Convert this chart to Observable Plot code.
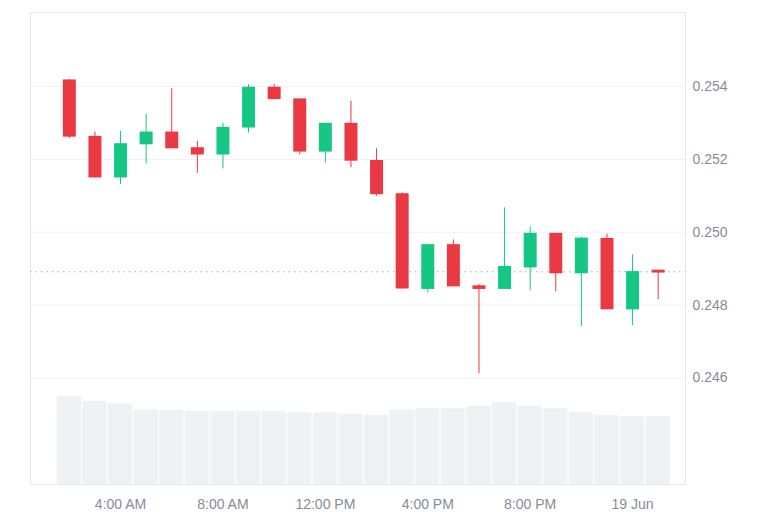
<!DOCTYPE html>
<html><head><meta charset="utf-8">
<script src="https://cdn.jsdelivr.net/npm/d3@7"></script>
<script src="https://cdn.jsdelivr.net/npm/@observablehq/plot@0.6"></script>
<style>
body{margin:0;background:#fff;}
#wrap{position:relative;width:768px;height:512px;}
#wrap svg{position:absolute;left:0;top:0;}
</style></head><body><div id="wrap"></div>
<script>
const times = ["2024-06-18T02:00Z","2024-06-18T03:00Z","2024-06-18T04:00Z","2024-06-18T05:00Z","2024-06-18T06:00Z","2024-06-18T07:00Z","2024-06-18T08:00Z","2024-06-18T09:00Z","2024-06-18T10:00Z","2024-06-18T11:00Z","2024-06-18T12:00Z","2024-06-18T13:00Z","2024-06-18T14:00Z","2024-06-18T15:00Z","2024-06-18T16:00Z","2024-06-18T17:00Z","2024-06-18T18:00Z","2024-06-18T19:00Z","2024-06-18T20:00Z","2024-06-18T21:00Z","2024-06-18T22:00Z","2024-06-18T23:00Z","2024-06-19T00:00Z","2024-06-19T01:00Z"];
const open  = [0.25418,0.25263,0.25149,0.25240,0.25275,0.25232,0.25212,0.25286,0.25398,0.25366,0.25220,0.25299,0.25197,0.25106,0.24843,0.24966,0.24853,0.24843,0.24902,0.24997,0.24886,0.24983,0.24787,0.24896];
const high  = [0.25419,0.25275,0.25277,0.25323,0.25394,0.25250,0.25299,0.25405,0.25406,0.25366,0.25299,0.25360,0.25229,0.25108,0.24966,0.24979,0.24857,0.25067,0.25014,0.24997,0.24986,0.24995,0.24938,0.24896];
const low   = [0.25257,0.25149,0.25131,0.25188,0.25229,0.25162,0.25174,0.25272,0.25364,0.25212,0.25190,0.25177,0.25099,0.24844,0.24833,0.24850,0.24612,0.24843,0.24839,0.24837,0.24741,0.24787,0.24744,0.24815];
const close = [0.25261,0.25149,0.25243,0.25275,0.25229,0.25212,0.25288,0.25398,0.25364,0.25220,0.25299,0.25195,0.25103,0.24844,0.24966,0.24850,0.24843,0.24906,0.24997,0.24886,0.24984,0.24787,0.24892,0.24888];
const volumes = [88.3,83.3,80.7,74.7,74.3,73,73,73,73,71.7,71.7,70.3,69.3,74.7,76,75.7,78.3,82,78.3,75.7,72,69.3,68,68];
const lastPrice = 0.248915;
const yTicks = [0.246,0.248,0.250,0.252,0.254];
const xTicks = ["2024-06-18T04:00Z","2024-06-18T08:00Z","2024-06-18T12:00Z","2024-06-18T16:00Z","2024-06-18T20:00Z","2024-06-19T00:00Z"];
const xTickLabels = ["4:00 AM","8:00 AM","12:00 PM","4:00 PM","8:00 PM","19 Jun"];

const candles = times.map((t,i)=>({date:new Date(t), open:open[i], high:high[i], low:low[i], close:close[i], volume:volumes[i]}));
const xTickDates = xTicks.map(d=>new Date(d));
const xDomain = [new Date("2024-06-18T00:29Z"), new Date("2024-06-19T02:04Z")];
const up = "#16c784", down = "#ea3943";
const col = d => d.close >= d.open ? up : down;
const W = 768, H = 512;
const M = {marginTop:12, marginRight:83, marginBottom:28, marginLeft:30};
const half = 30*60000;

const vol = Plot.plot({
  width: W, height: H, ...M,
  style: {background: "transparent"},
  x: {type: "utc", domain: xDomain, axis: null},
  y: {domain: [0, 100], range: [484, 384], axis: null},
  marks: [
    Plot.rectY(candles, {x1: d => new Date(+d.date - half), x2: d => new Date(+d.date + half), y: "volume", fill: "#eff2f5", insetLeft: 0.5, insetRight: 0.5, rx: 2})
  ]
});

const main = Plot.plot({
  width: W, height: H, ...M,
  style: {background: "transparent", fontFamily: "'Liberation Sans', Arial, sans-serif", fontSize: "14px", color: "#858c99"},
  x: {type: "utc", domain: xDomain},
  y: {domain: [0.243077, 0.256031]},
  color: {type: "identity"},
  marks: [
    Plot.ruleY(yTicks, {stroke: "#eff2f5"}),
    Plot.frame({stroke: "#e3e6ea"}),
    Plot.ruleY([lastPrice], {stroke: "#a6abb3", strokeDasharray: "1.5,4"}),
    Plot.ruleX(candles, {x: "date", y1: "low", y2: "high", stroke: col, strokeWidth: 1}),
    Plot.ruleX(candles, {x: "date", y1: "open", y2: "close", stroke: col, strokeWidth: 13}),
    Plot.axisX(xTickDates, {tickSize: 0, tickPadding: 15, tickFormat: d => xTickLabels[xTickDates.findIndex(t => +t === +d)], label: null}),
    Plot.axisY(yTicks, {anchor: "right", tickSize: 0, tickPadding: 7, tickFormat: d => d.toFixed(3), label: null})
  ]
});

const wrap = document.getElementById("wrap");
wrap.appendChild(vol);
wrap.appendChild(main);
</script></body></html>
